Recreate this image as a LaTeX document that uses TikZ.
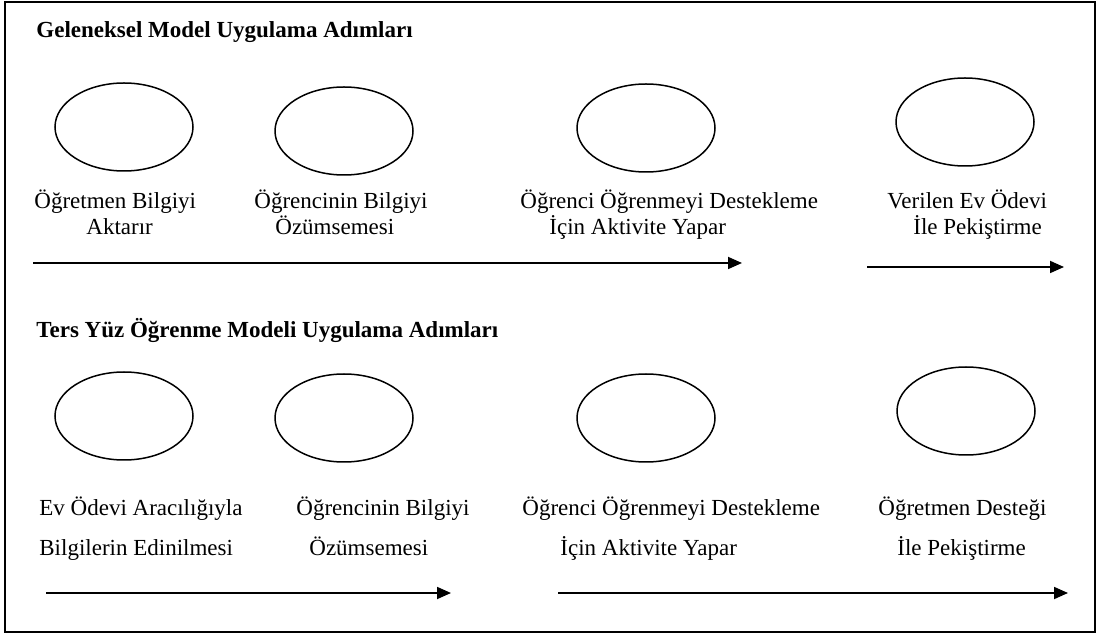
\documentclass[tikz,border=0pt]{standalone}
\usepackage{fontspec}
\setmainfont{Liberation Serif}
\usetikzlibrary{shapes.geometric,arrows.meta}
\begin{document}
\begin{tikzpicture}[x=0.5pt,y=-0.5pt,
  oval/.style={draw,ellipse,line width=0.75pt,minimum width=69pt,minimum height=44pt,inner sep=0pt},
  lbl/.style={anchor=mid west,inner sep=0pt,font=\fontsize{11.5pt}{13pt}\selectfont},
  ttl/.style={anchor=mid west,inner sep=0pt,font=\fontsize{11.5pt}{13pt}\selectfont\bfseries},
  arr/.style={line width=0.9pt,-{Triangle[length=7pt,width=6pt]}}]
\useasboundingbox (0,0) rectangle (1107,635);
\draw[line width=1pt] (5,2) rectangle (1095,632);
% Row 1
\node[ttl] (t1) at (36,33) {Geleneksel Model Uygulama Adımları};
\node[oval] (e1) at (124,127) {};
\node[oval] (e2) at (344,131) {};
\node[oval] (e3) at (646,128) {};
\node[oval] (e4) at (965,122) {};
\node[lbl] (l1a) at (34,204) {Öğretmen Bilgiyi};
\node[lbl] (l1b) at (86,230) {Aktarır};
\node[lbl] (l2a) at (254,204) {Öğrencinin Bilgiyi};
\node[lbl] (l2b) at (275,230) {Özümsemesi};
\node[lbl] (l3a) at (520,204) {Öğrenci Öğrenmeyi Destekleme};
\node[lbl] (l3b) at (549,230) {İçin Aktivite Yapar};
\node[lbl] (l4a) at (887,204) {Verilen Ev Ödevi};
\node[lbl] (l4b) at (913,230) {İle Pekiştirme};
\coordinate (a1s) at (33,263);
\coordinate (a1e) at (742,263);
\coordinate (a2s) at (867,267);
\coordinate (a2e) at (1064,267);
\draw[arr] (a1s) -- (a1e);
\draw[arr] (a2s) -- (a2e);
% Row 2
\node[ttl] (t2) at (36,333) {Ters Yüz Öğrenme Modeli Uygulama Adımları};
\node[oval] (e5) at (124,416) {};
\node[oval] (e6) at (344,418) {};
\node[oval] (e7) at (646,418) {};
\node[oval] (e8) at (966,411) {};
\node[lbl] (l5a) at (39,511) {Ev Ödevi Aracılığıyla};
\node[lbl] (l5b) at (39,551) {Bilgilerin Edinilmesi};
\node[lbl] (l6a) at (296,511) {Öğrencinin Bilgiyi};
\node[lbl] (l6b) at (309,551) {Özümsemesi};
\node[lbl] (l7a) at (522,511) {Öğrenci Öğrenmeyi Destekleme};
\node[lbl] (l7b) at (560,551) {İçin Aktivite Yapar};
\node[lbl] (l8a) at (878,511) {Öğretmen Desteği};
\node[lbl] (l8b) at (897,551) {İle Pekiştirme};
\coordinate (b1s) at (46,593);
\coordinate (b1e) at (451,593);
\coordinate (b2s) at (558,593);
\coordinate (b2e) at (1068,593);
\draw[arr] (b1s) -- (b1e);
\draw[arr] (b2s) -- (b2e);
\end{tikzpicture}
\end{document}
